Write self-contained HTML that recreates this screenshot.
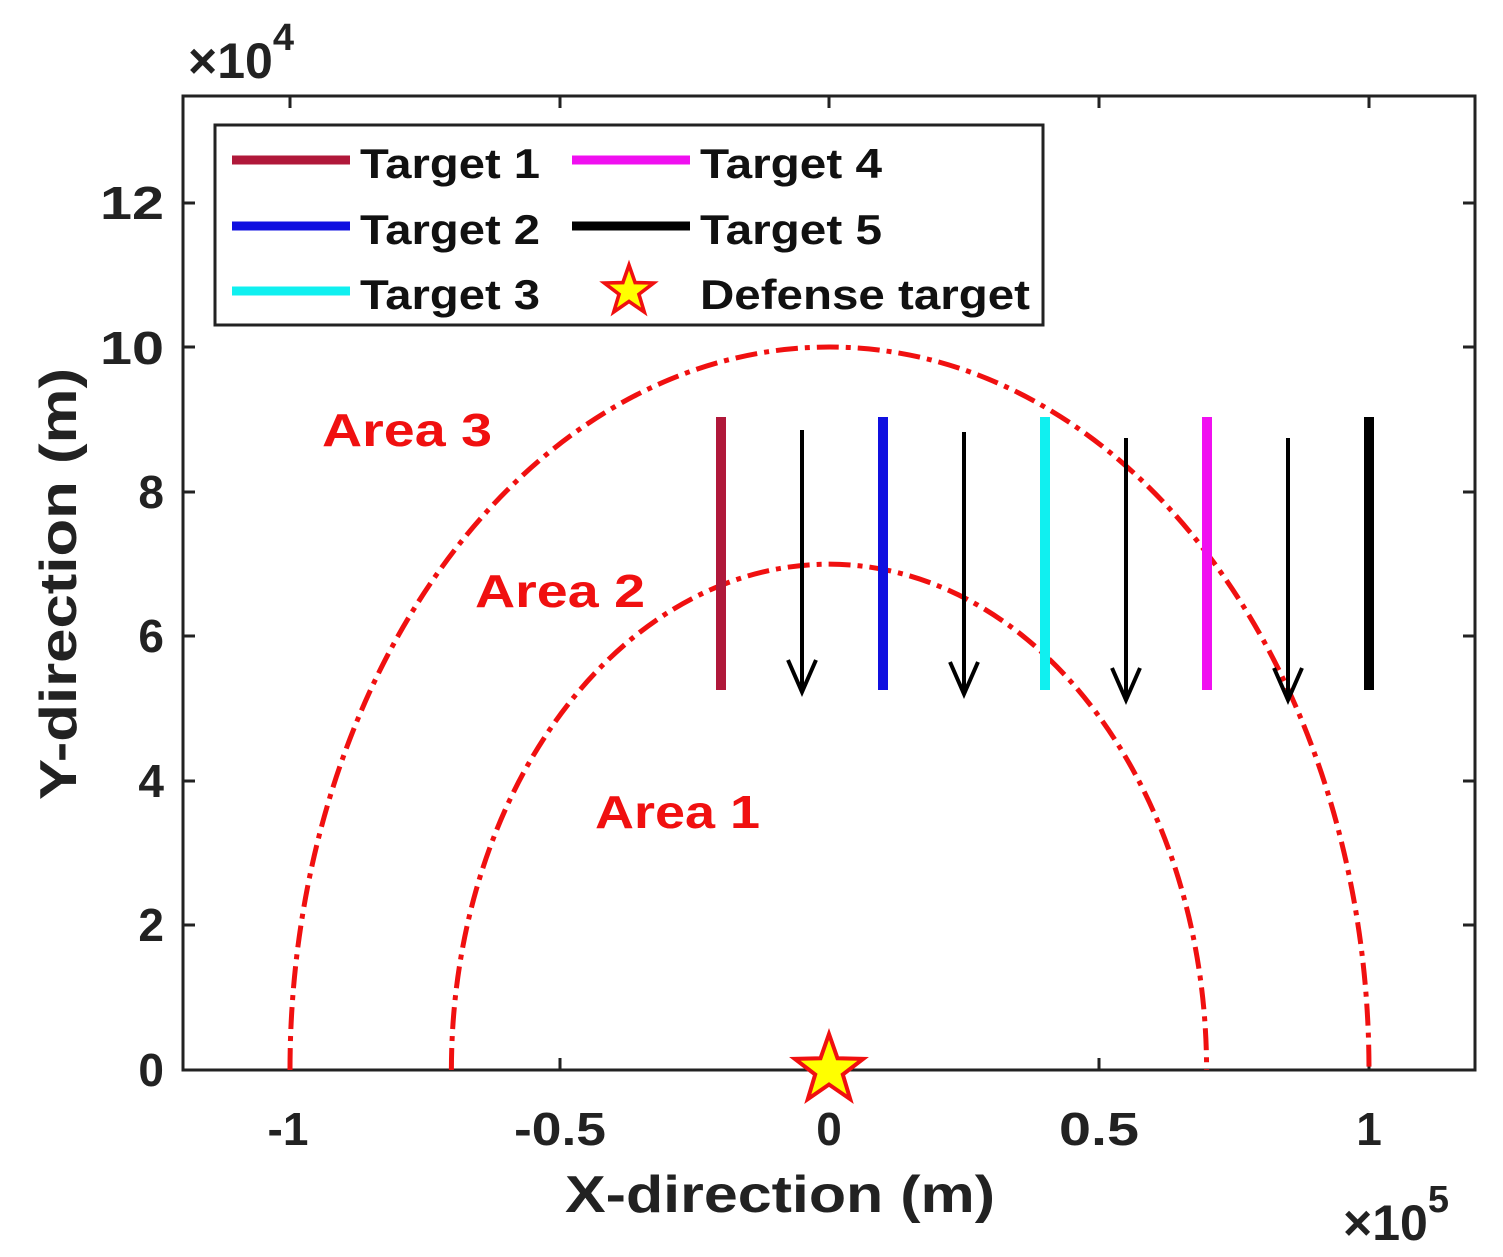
<!DOCTYPE html>
<html><head><meta charset="utf-8"><style>
body{margin:0;background:#fff}
svg{display:block}
text{font-family:"Liberation Sans",Arial,sans-serif;font-weight:bold}
</style></head><body>
<svg width="1503" height="1257" viewBox="0 0 1503 1257" xmlns="http://www.w3.org/2000/svg">
<rect x="183" y="96" width="1292" height="974" fill="#fff" stroke="#222" stroke-width="3"/>
<g stroke="#222" stroke-width="3">
<line x1="290" y1="1070" x2="290" y2="1058"/><line x1="290" y1="96" x2="290" y2="108"/>
<line x1="560" y1="1070" x2="560" y2="1058"/><line x1="560" y1="96" x2="560" y2="108"/>
<line x1="829" y1="1070" x2="829" y2="1058"/><line x1="829" y1="96" x2="829" y2="108"/>
<line x1="1099" y1="1070" x2="1099" y2="1058"/><line x1="1099" y1="96" x2="1099" y2="108"/>
<line x1="1369" y1="1070" x2="1369" y2="1058"/><line x1="1369" y1="96" x2="1369" y2="108"/>
<line x1="183" y1="925" x2="195" y2="925"/><line x1="1475" y1="925" x2="1463" y2="925"/>
<line x1="183" y1="781" x2="195" y2="781"/><line x1="1475" y1="781" x2="1463" y2="781"/>
<line x1="183" y1="636" x2="195" y2="636"/><line x1="1475" y1="636" x2="1463" y2="636"/>
<line x1="183" y1="492" x2="195" y2="492"/><line x1="1475" y1="492" x2="1463" y2="492"/>
<line x1="183" y1="347" x2="195" y2="347"/><line x1="1475" y1="347" x2="1463" y2="347"/>
<line x1="183" y1="203" x2="195" y2="203"/><line x1="1475" y1="203" x2="1463" y2="203"/>
</g>
<g font-size="46" fill="#222" text-anchor="end">
<text x="164" y="1086">0</text><text x="164" y="941">2</text><text x="164" y="797">4</text>
<text x="164" y="652">6</text><text x="164" y="508">8</text><text x="164" y="364" textLength="64" lengthAdjust="spacingAndGlyphs">10</text><text x="164" y="219" textLength="64" lengthAdjust="spacingAndGlyphs">12</text>
</g>
<g font-size="46" fill="#222" text-anchor="middle">
<text x="288" y="1145">-1</text><text x="560" y="1145" textLength="92" lengthAdjust="spacingAndGlyphs">-0.5</text><text x="829" y="1145">0</text>
<text x="1099" y="1145" textLength="80" lengthAdjust="spacingAndGlyphs">0.5</text><text x="1369" y="1145">1</text>
</g>
<text x="565" y="1212" font-size="52" fill="#222" textLength="430" lengthAdjust="spacingAndGlyphs">X-direction (m)</text>
<text transform="translate(76,800) rotate(-90)" font-size="52" fill="#222" textLength="432" lengthAdjust="spacingAndGlyphs">Y-direction (m)</text>
<text x="188" y="78" font-size="50" fill="#222" font-weight="normal">×10<tspan font-size="38" dy="-28">4</tspan></text>
<text x="1343" y="1240" font-size="50" fill="#222" font-weight="normal">×10<tspan font-size="38" dy="-28">5</tspan></text>
<g fill="none" stroke="#f01010" stroke-width="5" stroke-dasharray="22,7,5,7">
<path d="M290,1070 A539.5,723 0 0 1 1369,1070"/>
<path d="M451.4,1070 A377.6,506 0 0 1 1206.6,1070"/>
</g>
<g stroke-width="10">
<line x1="721" y1="417" x2="721" y2="690" stroke="#b0183a"/>
<line x1="883" y1="417" x2="883" y2="690" stroke="#1010e0"/>
<line x1="1045" y1="417" x2="1045" y2="690" stroke="#10f0f0"/>
<line x1="1207" y1="417" x2="1207" y2="690" stroke="#f010f0"/>
<line x1="1369" y1="417" x2="1369" y2="690" stroke="#000"/>
</g>
<g stroke="#000" stroke-width="4" fill="none">
<line x1="802" y1="430" x2="802" y2="692"/><polyline points="788,660 802,692 816,660"/>
<line x1="964" y1="432" x2="964" y2="694"/><polyline points="950,662 964,694 978,662"/>
<line x1="1126" y1="438" x2="1126" y2="700"/><polyline points="1112,668 1126,700 1140,668"/>
<line x1="1288" y1="438" x2="1288" y2="700"/><polyline points="1274,668 1288,700 1302,668"/>
</g>
<g font-size="46" fill="#f01010">
<text x="322" y="446" textLength="170" lengthAdjust="spacingAndGlyphs">Area 3</text>
<text x="475" y="607" textLength="170" lengthAdjust="spacingAndGlyphs">Area 2</text>
<text x="595" y="828" textLength="165" lengthAdjust="spacingAndGlyphs">Area 1</text>
</g>
<polygon transform="translate(829,1070)" points="0,-36 8.5,-11.7 34.2,-11.1 13.8,4.5 21.2,29.1 0,14.5 -21.2,29.1 -13.8,4.5 -34.2,-11.1 -8.5,-11.7" fill="#ffff00" stroke="#f01010" stroke-width="4"/>
<rect x="215" y="125" width="828" height="200" fill="#fff" stroke="#222" stroke-width="3"/>
<g stroke-width="9">
<line x1="232" y1="160" x2="350" y2="160" stroke="#b0183a"/>
<line x1="232" y1="226" x2="350" y2="226" stroke="#1010e0"/>
<line x1="232" y1="291" x2="350" y2="291" stroke="#10f0f0"/>
<line x1="572" y1="160" x2="690" y2="160" stroke="#f010f0"/>
<line x1="572" y1="226" x2="690" y2="226" stroke="#000"/>
</g>
<polygon transform="translate(629,291) scale(0.72)" points="0,-36 8.5,-11.7 34.2,-11.1 13.8,4.5 21.2,29.1 0,14.5 -21.2,29.1 -13.8,4.5 -34.2,-11.1 -8.5,-11.7" fill="#ffff00" stroke="#f01010" stroke-width="5"/>
<g font-size="42" fill="#111">
<text x="360" y="178" textLength="180" lengthAdjust="spacingAndGlyphs">Target 1</text>
<text x="360" y="244" textLength="180" lengthAdjust="spacingAndGlyphs">Target 2</text>
<text x="360" y="309" textLength="180" lengthAdjust="spacingAndGlyphs">Target 3</text>
<text x="700" y="178" textLength="182" lengthAdjust="spacingAndGlyphs">Target 4</text>
<text x="700" y="244" textLength="182" lengthAdjust="spacingAndGlyphs">Target 5</text>
<text x="700" y="309" textLength="330" lengthAdjust="spacingAndGlyphs">Defense target</text>
</g>
</svg>
</body></html>
